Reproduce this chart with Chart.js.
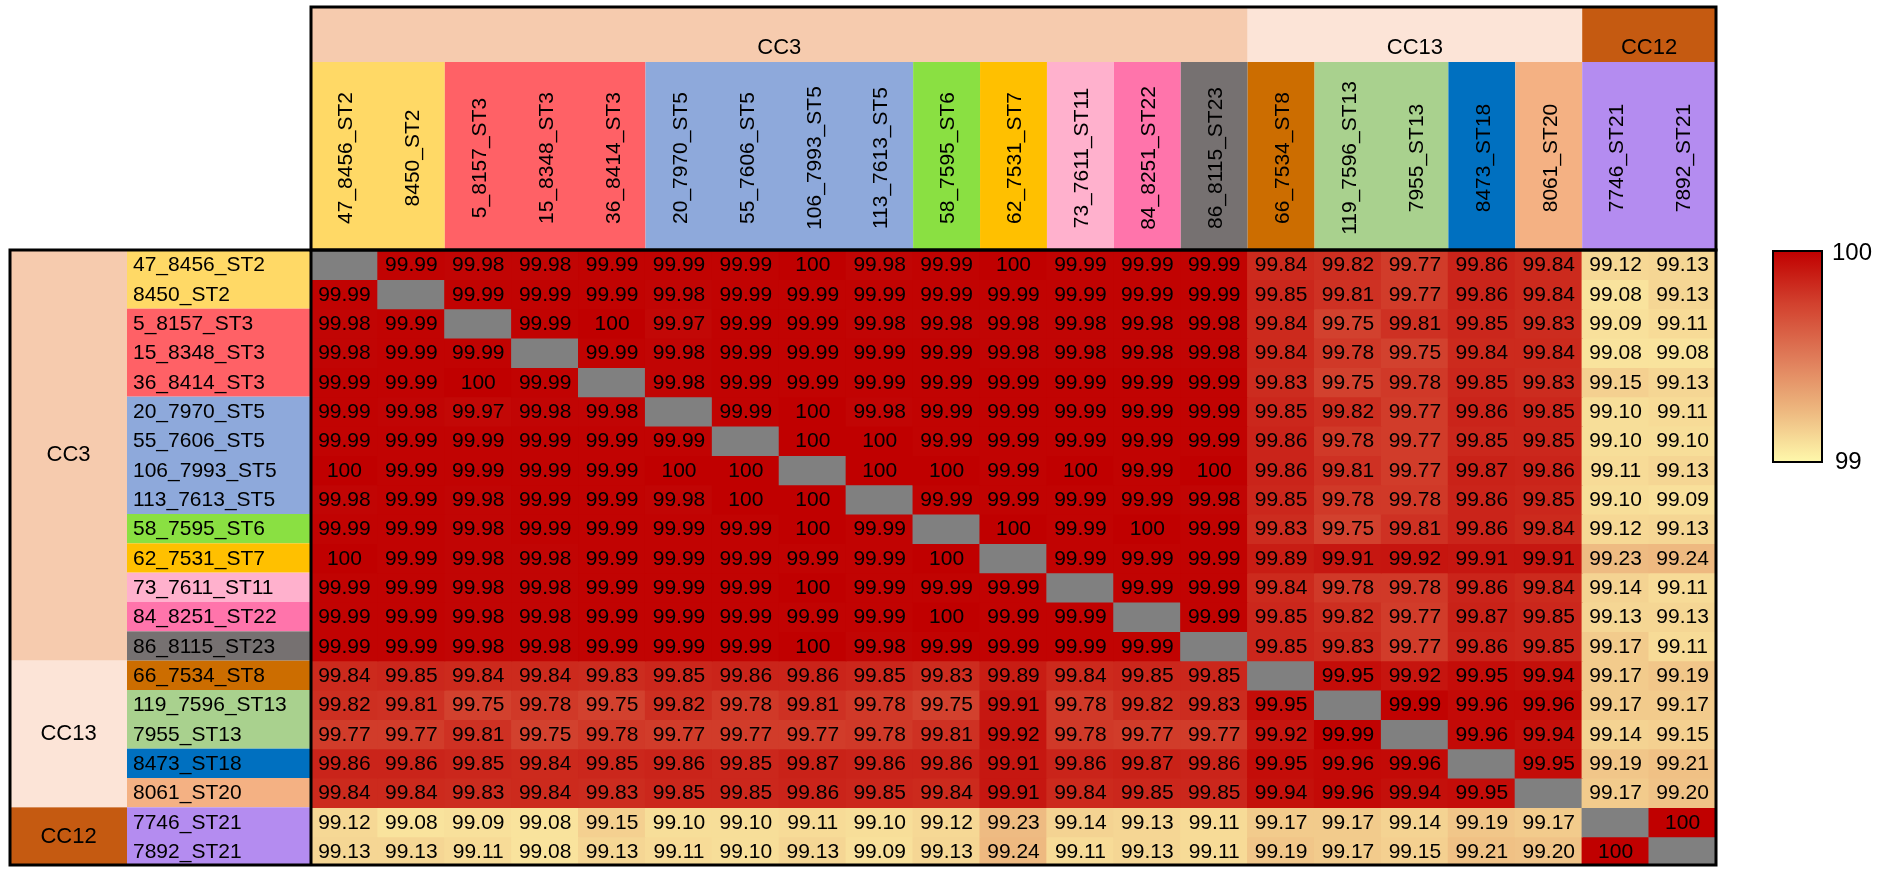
<!DOCTYPE html>
<html>
<head>
<meta charset="utf-8">
<style>
  html, body { margin: 0; padding: 0; background: #ffffff; overflow: hidden; }
  #wrap { position: relative; width: 1892px; height: 871px; }
</style>
<script src="https://cdn.jsdelivr.net/npm/chart.js@4.4.1/dist/chart.umd.min.js"></script>
</head>
<body>
<div id="wrap"><canvas id="c" width="1892" height="871"></canvas></div>
<script>
// Isolates, in matrix order (same order for rows and columns)
const strains = [
  '47_8456_ST2', '8450_ST2', '5_8157_ST3', '15_8348_ST3', '36_8414_ST3',
  '20_7970_ST5', '55_7606_ST5', '106_7993_ST5', '113_7613_ST5', '58_7595_ST6',
  '62_7531_ST7', '73_7611_ST11', '84_8251_ST22', '86_8115_ST23',
  '66_7534_ST8', '119_7596_ST13', '7955_ST13', '8473_ST18', '8061_ST20',
  '7746_ST21', '7892_ST21'
];

// Clonal complex of each isolate
const clonalComplex = [
  'CC3', 'CC3', 'CC3', 'CC3', 'CC3', 'CC3', 'CC3', 'CC3', 'CC3', 'CC3', 'CC3', 'CC3', 'CC3', 'CC3',
  'CC13', 'CC13', 'CC13', 'CC13', 'CC13',
  'CC12', 'CC12'
];

// Pairwise identity (%), null on the diagonal
const identityRows = [
  [null, 99.99, 99.98, 99.98, 99.99, 99.99, 99.99, 100, 99.98, 99.99, 100, 99.99, 99.99, 99.99, 99.84, 99.82, 99.77, 99.86, 99.84, 99.12, 99.13],
  [99.99, null, 99.99, 99.99, 99.99, 99.98, 99.99, 99.99, 99.99, 99.99, 99.99, 99.99, 99.99, 99.99, 99.85, 99.81, 99.77, 99.86, 99.84, 99.08, 99.13],
  [99.98, 99.99, null, 99.99, 100, 99.97, 99.99, 99.99, 99.98, 99.98, 99.98, 99.98, 99.98, 99.98, 99.84, 99.75, 99.81, 99.85, 99.83, 99.09, 99.11],
  [99.98, 99.99, 99.99, null, 99.99, 99.98, 99.99, 99.99, 99.99, 99.99, 99.98, 99.98, 99.98, 99.98, 99.84, 99.78, 99.75, 99.84, 99.84, 99.08, 99.08],
  [99.99, 99.99, 100, 99.99, null, 99.98, 99.99, 99.99, 99.99, 99.99, 99.99, 99.99, 99.99, 99.99, 99.83, 99.75, 99.78, 99.85, 99.83, 99.15, 99.13],
  [99.99, 99.98, 99.97, 99.98, 99.98, null, 99.99, 100, 99.98, 99.99, 99.99, 99.99, 99.99, 99.99, 99.85, 99.82, 99.77, 99.86, 99.85, 99.10, 99.11],
  [99.99, 99.99, 99.99, 99.99, 99.99, 99.99, null, 100, 100, 99.99, 99.99, 99.99, 99.99, 99.99, 99.86, 99.78, 99.77, 99.85, 99.85, 99.10, 99.10],
  [100, 99.99, 99.99, 99.99, 99.99, 100, 100, null, 100, 100, 99.99, 100, 99.99, 100, 99.86, 99.81, 99.77, 99.87, 99.86, 99.11, 99.13],
  [99.98, 99.99, 99.98, 99.99, 99.99, 99.98, 100, 100, null, 99.99, 99.99, 99.99, 99.99, 99.98, 99.85, 99.78, 99.78, 99.86, 99.85, 99.10, 99.09],
  [99.99, 99.99, 99.98, 99.99, 99.99, 99.99, 99.99, 100, 99.99, null, 100, 99.99, 100, 99.99, 99.83, 99.75, 99.81, 99.86, 99.84, 99.12, 99.13],
  [100, 99.99, 99.98, 99.98, 99.99, 99.99, 99.99, 99.99, 99.99, 100, null, 99.99, 99.99, 99.99, 99.89, 99.91, 99.92, 99.91, 99.91, 99.23, 99.24],
  [99.99, 99.99, 99.98, 99.98, 99.99, 99.99, 99.99, 100, 99.99, 99.99, 99.99, null, 99.99, 99.99, 99.84, 99.78, 99.78, 99.86, 99.84, 99.14, 99.11],
  [99.99, 99.99, 99.98, 99.98, 99.99, 99.99, 99.99, 99.99, 99.99, 100, 99.99, 99.99, null, 99.99, 99.85, 99.82, 99.77, 99.87, 99.85, 99.13, 99.13],
  [99.99, 99.99, 99.98, 99.98, 99.99, 99.99, 99.99, 100, 99.98, 99.99, 99.99, 99.99, 99.99, null, 99.85, 99.83, 99.77, 99.86, 99.85, 99.17, 99.11],
  [99.84, 99.85, 99.84, 99.84, 99.83, 99.85, 99.86, 99.86, 99.85, 99.83, 99.89, 99.84, 99.85, 99.85, null, 99.95, 99.92, 99.95, 99.94, 99.17, 99.19],
  [99.82, 99.81, 99.75, 99.78, 99.75, 99.82, 99.78, 99.81, 99.78, 99.75, 99.91, 99.78, 99.82, 99.83, 99.95, null, 99.99, 99.96, 99.96, 99.17, 99.17],
  [99.77, 99.77, 99.81, 99.75, 99.78, 99.77, 99.77, 99.77, 99.78, 99.81, 99.92, 99.78, 99.77, 99.77, 99.92, 99.99, null, 99.96, 99.94, 99.14, 99.15],
  [99.86, 99.86, 99.85, 99.84, 99.85, 99.86, 99.85, 99.87, 99.86, 99.86, 99.91, 99.86, 99.87, 99.86, 99.95, 99.96, 99.96, null, 99.95, 99.19, 99.21],
  [99.84, 99.84, 99.83, 99.84, 99.83, 99.85, 99.85, 99.86, 99.85, 99.84, 99.91, 99.84, 99.85, 99.85, 99.94, 99.96, 99.94, 99.95, null, 99.17, 99.20],
  [99.12, 99.08, 99.09, 99.08, 99.15, 99.10, 99.10, 99.11, 99.10, 99.12, 99.23, 99.14, 99.13, 99.11, 99.17, 99.17, 99.14, 99.19, 99.17, null, 100],
  [99.13, 99.13, 99.11, 99.08, 99.13, 99.11, 99.10, 99.13, 99.09, 99.13, 99.24, 99.11, 99.13, 99.11, 99.19, 99.17, 99.15, 99.21, 99.20, 100, null]
];

// Colour-scale end labels
const scaleMin = 99;
const scaleMax = 100;
const scaleTickLabels = ['100', '99'];

// Annotation colours
const stColors = {
  ST2: '#FFD966', ST3: '#FF6166', ST5: '#8EA9DB', ST6: '#8AE042', ST7: '#FFC000',
  ST11: '#FFB1CD', ST22: '#FF74AB', ST23: '#767171', ST8: '#CC6D00', ST13: '#A9D18E',
  ST18: '#0070C0', ST20: '#F4B183', ST21: '#B48CF0'
};
const ccColors = { CC3: '#F6CBAE', CC13: '#FCE4D7', CC12: '#C55A11' };
const diagonalColor = '#808080';

// Heat colour ramp (value -> colour)
const heatStops = [
  [99.00, [254, 248, 171]],
  [99.25, [237, 182, 126]],
  [99.50, [223, 122, 88]],
  [99.75, [210, 65, 46]],
  [100.0, [192, 0, 0]]
];
function heat(v) {
  if (v <= heatStops[0][0]) return rgb(heatStops[0][1]);
  for (let i = 1; i < heatStops.length; i++) {
    const [v1, c1] = heatStops[i];
    const [v0, c0] = heatStops[i - 1];
    if (v <= v1) {
      const t = (v - v0) / (v1 - v0);
      return rgb(c0.map((c, k) => c + (c1[k] - c) * t));
    }
  }
  return rgb(heatStops[heatStops.length - 1][1]);
}
function rgb(c) { return 'rgb(' + c.map(Math.round).join(',') + ')'; }
function stOf(name) { return name.split('_').pop(); }
function fmt(v) { return v === 100 ? '100' : v.toFixed(2); }

// Consecutive runs of equal keys -> [{key, start, end}]
function runs(keys) {
  const out = [];
  keys.forEach((k, i) => {
    if (out.length && out[out.length - 1].key === k) out[out.length - 1].end = i;
    else out.push({ key: k, start: i, end: i });
  });
  return out;
}

const FONT = '"Liberation Sans", Arial, Helvetica, sans-serif';

// Layout of the annotation panels
const frame = { outerLeft: 10, ccColRight: 127, topBandTop: 7, topBandBottom: 62 };
const legendBox = { x: 1773, w: 49, h: 211 };

const annotations = {
  id: 'annotations',
  beforeDatasetsDraw(chart) {
    const ctx = chart.ctx;
    const area = chart.chartArea;
    const meta0 = chart.getDatasetMeta(0);
    const colEdges = meta0.data.map(el => [el.x - el.width / 2, el.x + el.width / 2, el.x]);
    const rowEdges = strains.map((_, r) => {
      const el = chart.getDatasetMeta(r).data[0];
      return [Math.min(el.y, el.base), Math.max(el.y, el.base), (el.y + el.base) / 2];
    });
    const stRuns = runs(strains.map(stOf));
    const ccRuns = runs(clonalComplex);

    ctx.save();
    // top: clonal complex band
    ccRuns.forEach(g => {
      const x0 = colEdges[g.start][0], x1 = colEdges[g.end][1];
      ctx.fillStyle = ccColors[g.key];
      ctx.fillRect(x0, frame.topBandTop, x1 - x0, frame.topBandBottom - frame.topBandTop);
    });
    // top: sequence type blocks
    stRuns.forEach(g => {
      const x0 = colEdges[g.start][0], x1 = colEdges[g.end][1];
      ctx.fillStyle = stColors[g.key];
      ctx.fillRect(x0, frame.topBandBottom, x1 - x0, area.top - frame.topBandBottom);
    });
    // left: clonal complex column
    ccRuns.forEach(g => {
      const y0 = rowEdges[g.start][0], y1 = rowEdges[g.end][1];
      ctx.fillStyle = ccColors[g.key];
      ctx.fillRect(frame.outerLeft, y0, frame.ccColRight - frame.outerLeft, y1 - y0);
    });
    // left: sequence type column
    stRuns.forEach(g => {
      const y0 = rowEdges[g.start][0], y1 = rowEdges[g.end][1];
      ctx.fillStyle = stColors[g.key];
      ctx.fillRect(frame.ccColRight, y0, area.left - frame.ccColRight, y1 - y0);
    });

    ctx.fillStyle = '#000';
    ctx.textBaseline = 'middle';
    // group labels
    ctx.font = '22px ' + FONT;
    ctx.textAlign = 'center';
    ccRuns.forEach(g => {
      const cx = (colEdges[g.start][0] + colEdges[g.end][1]) / 2;
      ctx.fillText(g.key, cx, 48);
      const cy = (rowEdges[g.start][0] + rowEdges[g.end][1]) / 2;
      ctx.fillText(g.key, (frame.outerLeft + frame.ccColRight) / 2, cy);
    });
    // column labels (rotated)
    ctx.font = '21px ' + FONT;
    const labelMid = (frame.topBandBottom + area.top) / 2 + 2;
    strains.forEach((s, j) => {
      ctx.save();
      ctx.translate(colEdges[j][2] + 2, labelMid);
      ctx.rotate(-Math.PI / 2);
      ctx.textAlign = 'center';
      ctx.fillText(s, 0, 0);
      ctx.restore();
    });
    // row labels
    ctx.textAlign = 'left';
    strains.forEach((s, r) => {
      ctx.fillText(s, frame.ccColRight + 6, rowEdges[r][2] + 1);
    });
    ctx.restore();
  },
  afterDatasetsDraw(chart) {
    const ctx = chart.ctx;
    const area = chart.chartArea;
    ctx.save();
    // cell values
    ctx.fillStyle = '#000';
    ctx.font = '21px ' + FONT;
    ctx.textAlign = 'center';
    ctx.textBaseline = 'middle';
    identityRows.forEach((row, r) => {
      const meta = chart.getDatasetMeta(r);
      row.forEach((v, j) => {
        if (v === null) return;
        const p = meta.data[j].getCenterPoint();
        ctx.fillText(fmt(v), p.x, p.y + 1);
      });
    });

    // frames
    ctx.strokeStyle = '#000';
    ctx.lineWidth = 3;
    ctx.strokeRect(area.left, frame.topBandTop, area.right - area.left, area.top - frame.topBandTop);
    ctx.strokeRect(frame.outerLeft, area.top, area.right - frame.outerLeft, area.bottom - area.top - 1);
    ctx.beginPath();
    ctx.moveTo(area.left, area.top);
    ctx.lineTo(area.left, area.bottom);
    ctx.stroke();

    // colour scale
    const top = area.top + 1;
    const grad = ctx.createLinearGradient(0, top, 0, top + legendBox.h);
    for (let k = 0; k <= 20; k++) {
      const v = scaleMax - (scaleMax - scaleMin) * k / 20;
      grad.addColorStop(k / 20, heat(v));
    }
    ctx.fillStyle = grad;
    ctx.fillRect(legendBox.x, top, legendBox.w, legendBox.h);
    ctx.lineWidth = 2;
    ctx.strokeRect(legendBox.x, top, legendBox.w, legendBox.h);
    ctx.fillStyle = '#000';
    ctx.font = '24px ' + FONT;
    ctx.textAlign = 'left';
    ctx.fillText(scaleTickLabels[0], legendBox.x + legendBox.w + 10, top + 2);
    ctx.fillText(scaleTickLabels[1], legendBox.x + legendBox.w + 13, top + legendBox.h);
    ctx.restore();
  }
};

const datasets = identityRows.map((row, r) => ({
  label: strains[r],
  data: row.map(() => 1),
  backgroundColor: row.map(v => (v === null ? diagonalColor : heat(v))),
  borderWidth: 0,
  barPercentage: 1,
  categoryPercentage: 1,
  inflateAmount: 0.6
}));

new Chart(document.getElementById('c'), {
  type: 'bar',
  data: { labels: strains, datasets },
  options: {
    responsive: false,
    animation: false,
    events: [],
    layout: { padding: { left: 311, top: 250, right: 176, bottom: 5 } },
    scales: {
      x: { display: false, stacked: true },
      y: { display: false, stacked: true, reverse: true, min: 0, max: strains.length }
    },
    plugins: { legend: { display: false }, tooltip: { enabled: false } }
  },
  plugins: [annotations]
});
</script>
</body>
</html>
